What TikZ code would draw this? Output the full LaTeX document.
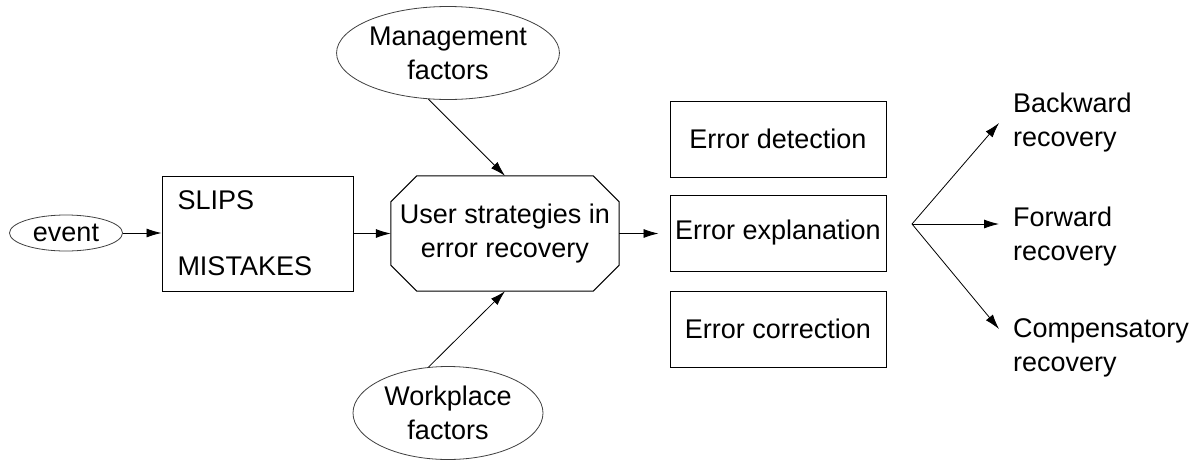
\documentclass[tikz,border=0pt]{standalone}
\usepackage{fontspec}
\setmainfont{Liberation Sans}
\usetikzlibrary{arrows.meta,shapes.geometric,calc}
\begin{document}
\begin{tikzpicture}[x=1pt,y=-1pt,
  every node/.style={font=\fontsize{27}{34}\selectfont},
  oval/.style={ellipse,draw=black!75,line width=0.8pt,inner sep=0pt,align=center},
  box/.style={rectangle,draw,line width=1pt,minimum width=216pt,minimum height=76pt,inner sep=0pt,align=center},
  plain/.style={inner sep=0pt,anchor=west,align=left},
  link/.style={-{Latex[length=15pt,width=9pt]},line width=0.8pt}]
\useasboundingbox (0,0) rectangle (1203,459);

% inputs
\node[oval,minimum width=113pt,minimum height=36pt] (event) at (66,233) {event};
\node[rectangle,draw,line width=1pt,minimum width=191pt,minimum height=115pt,
      text width=160pt,inner xsep=15pt,align=left] (slips) at (257.5,233.5)
      {SLIPS\\[32pt]MISTAKES};

% central strategy block (octagon with 26pt corner cuts) and its influences
\node[rectangle,minimum width=228pt,minimum height=115pt,inner sep=0pt,align=center]
      (user) at (505,233.5) {User strategies in\\error recovery};
\draw[line width=1pt]
  ($(user.north west)+(26,0)$) -- ($(user.north east)+(-26,0)$) --
  ($(user.north east)+(0,26)$) -- ($(user.south east)+(0,-26)$) --
  ($(user.south east)+(-26,0)$) -- ($(user.south west)+(26,0)$) --
  ($(user.south west)+(0,-26)$) -- ($(user.north west)+(0,26)$) -- cycle;
\node[oval,minimum width=190pt,minimum height=93pt] (mgmt) at (448,53) {Management\\factors};
\node[oval,minimum width=190pt,minimum height=93pt] (work) at (448,413) {Workplace\\factors};

% error handling stages
\node[box] (detect) at (778,139) {Error detection};
\node[box] (explain) at (778,233) {Error explanation};
\node[box] (correct) at (778,329) {Error correction};

% recovery outcomes
\node[plain] (back) at (1013,123) {Backward\\recovery};
\node[plain] (fwd) at (1013,237) {Forward\\recovery};
\node[plain] (comp) at (1013,348) {Compensatory\\recovery};

\coordinate (fan) at (912,224);
\coordinate (backtip) at (999,123);
\coordinate (fwdtip) at (999,224);
\coordinate (comptip) at (999,329);

% connectors
\draw[link] (event.east) -- (slips.west |- event.east);
\draw[link] (slips.east |- user.west) -- (user.west);
\draw[link] (user.east) -- ([xshift=-11pt]explain.west |- user.east);
\draw[link] (mgmt.247) -- (user.north);
\draw[link] (work.113) -- (user.south);
\draw[link] (fan) -- (backtip);
\draw[link] (fan) -- (fwdtip);
\draw[link] (fan) -- (comptip);
\end{tikzpicture}
\end{document}
